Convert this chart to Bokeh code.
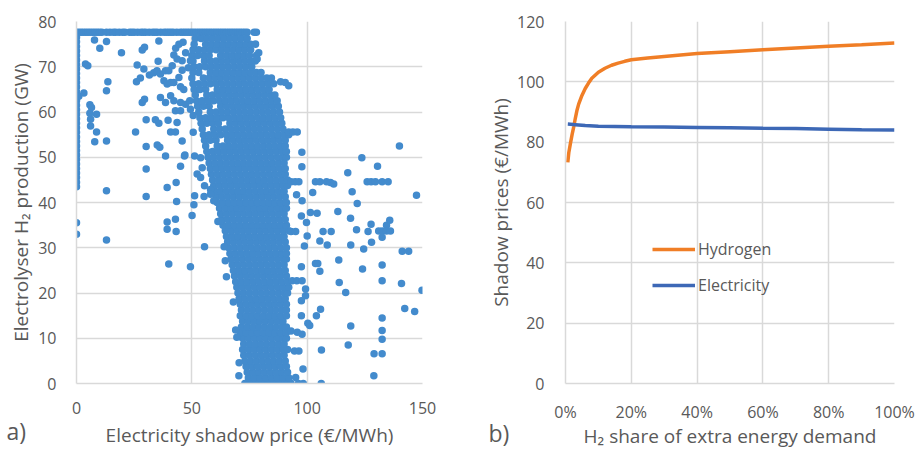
from bokeh.plotting import figure
from bokeh.layouts import row
from bokeh.models import Range1d, Legend, LegendItem, Title, FixedTicker, NumeralTickFormatter
from bokeh.embed import file_html
from bokeh.resources import INLINE

# ---------------- data: panel a) ----------------
# electricity shadow price (EUR/MWh) vs electrolyser H2 production (GW)
top_row_level = 77.6
top_row_x = [0, 1, 2, 3, 4, 5, 6, 7, 8, 9, 10, 11, 13, 14.5, 16, 17, 18.5, 20, 21, 23, 24, 25,
             26.5, 28, 29, 30, 31.5, 33, 34, 35, 36.5, 38, 39, 40, 41, 42, 43.5, 45, 46, 47, 48,
             49, 50, 51, 52, 53, 54, 55, 56, 57, 58, 59, 60, 61, 62, 63, 64, 65, 66, 67, 68, 69,
             70, 71, 72, 73, 74, 77, 78]

left_col_x = 0
left_col_y = [76.5, 75.5, 74.5, 73.5, 72.5, 71.5, 70.5, 69.5, 68.5, 67.5, 66.5, 65.5, 64.5, 63.5,
              62.5, 61.5, 60.5, 59.5, 58.5, 57.5, 56.5, 55.5, 54.5, 53.5, 52.5, 51.5, 50.5, 49.5,
              48.5, 47.5, 46.5, 45.5, 44.5, 43.5, 35.5, 33]

band_levels = [0, 1.25, 2.5, 3.75, 5, 6.25, 7.5, 8.75, 10, 11.25, 12.5, 13.75, 15, 16.25, 17.5,
               18.75, 20, 21.25, 22.5, 23.75, 25, 26.25, 27.5, 28.75, 30, 31.25, 32.5, 33.75, 35,
               36.25, 37.5, 38.75, 40, 41.25, 42.5, 43.75, 45, 46.25, 47.5, 48.75, 50, 51.25, 52.5,
               53.75, 55, 56.25, 57.5, 58.75, 60, 61.25, 62.5, 63.75, 65, 66.25, 67.5, 68.75, 70,
               71.25, 72.5, 73.75, 75, 76.25]
band_rows = [
    [73, 75.5, 78, 80.5, 83, 85.5, 88, 90.5, 93],
    [74.5, 77, 79.5, 82, 84.5, 87, 89.5, 92],
    [74, 76.5, 79, 81.5, 84, 86.5, 89, 91.5],
    [73.5, 76, 78.5, 81, 83.5, 86, 88.5, 91],
    [73, 75.5, 78, 80.5, 83, 85.5, 88, 90.5],
    [72.5, 75, 77.5, 80, 82.5, 85, 87.5, 90],
    [72, 74.5, 77, 79.5, 82, 84.5, 87, 89.5, 91.5],
    [72.5, 75, 77.5, 80, 82.5, 85, 87.5, 90],
    [72, 74.5, 77, 79.5, 82, 84.5, 87, 89.5, 91],
    [71, 73.5, 76, 78.5, 81, 83.5, 86, 88.5, 91],
    [71.5, 74, 76.5, 79, 81.5, 84, 86.5, 89, 91],
    [72, 74.5, 77, 79.5, 82, 84.5, 87, 89.5],
    [71, 73.5, 76, 78.5, 81, 83.5, 86, 88.5, 91],
    [71.5, 74, 76.5, 79, 81.5, 84, 86.5, 89, 91],
    [71, 73.5, 76, 78.5, 81, 83.5, 86, 88.5, 91],
    [70.5, 73, 75.5, 78, 80.5, 83, 85.5, 88, 90.5],
    [70, 72.5, 75, 77.5, 80, 82.5, 85, 87.5, 90, 91.5],
    [69.5, 72, 74.5, 77, 79.5, 82, 84.5, 87, 89.5, 92],
    [69, 71.5, 74, 76.5, 79, 81.5, 84, 86.5, 89, 91.5],
    [68.5, 71, 73.5, 76, 78.5, 81, 83.5, 86, 88.5, 91],
    [68, 70.5, 73, 75.5, 78, 80.5, 83, 85.5, 88, 90.5],
    [67.5, 70, 72.5, 75, 77.5, 80, 82.5, 85, 87.5, 90],
    [67, 69.5, 72, 74.5, 77, 79.5, 82, 84.5, 87, 89.5, 91],
    [66.5, 69, 71.5, 74, 76.5, 79, 81.5, 84, 86.5, 89, 91],
    [66, 68.5, 71, 73.5, 76, 78.5, 81, 83.5, 86, 88.5, 91],
    [65.5, 68, 70.5, 73, 75.5, 78, 80.5, 83, 85.5, 88, 90.5],
    [65, 67.5, 70, 72.5, 75, 77.5, 80, 82.5, 85, 87.5, 90],
    [64.5, 67, 69.5, 72, 74.5, 77, 79.5, 82, 84.5, 87, 89.5, 92],
    [63.5, 66, 68.5, 71, 73.5, 76, 78.5, 81, 83.5, 86, 88.5, 91],
    [63, 65.5, 68, 70.5, 73, 75.5, 78, 80.5, 83, 85.5, 88, 90.5],
    [62.5, 65, 67.5, 70, 72.5, 75, 77.5, 80, 82.5, 85, 87.5, 90],
    [62, 64.5, 67, 69.5, 72, 74.5, 77, 79.5, 82, 84.5, 87, 89.5, 91],
    [61, 63.5, 66, 68.5, 71, 73.5, 76, 78.5, 81, 83.5, 86, 88.5, 91],
    [60.5, 63, 65.5, 68, 70.5, 73, 75.5, 78, 80.5, 83, 85.5, 88, 90.5],
    [60, 62.5, 65, 67.5, 70, 72.5, 75, 77.5, 80, 82.5, 85, 87.5, 90],
    [59.5, 62, 64.5, 67, 69.5, 72, 74.5, 77, 79.5, 82, 84.5, 87, 89.5, 91.5],
    [59, 61.5, 64, 66.5, 69, 71.5, 74, 76.5, 79, 81.5, 84, 86.5, 89, 91.5],
    [58.5, 61, 63.5, 66, 68.5, 71, 73.5, 76, 78.5, 81, 83.5, 86, 88.5, 90.5],
    [58, 60.5, 63, 65.5, 68, 70.5, 73, 75.5, 78, 80.5, 83, 85.5, 88, 90.5],
    [57.5, 60, 62.5, 65, 67.5, 70, 72.5, 75, 77.5, 80, 82.5, 85, 87.5, 90],
    [57, 59.5, 62, 64.5, 67, 69.5, 72, 74.5, 77, 79.5, 82, 84.5, 87, 89.5, 91],
    [56.5, 59, 61.5, 64, 66.5, 69, 71.5, 74, 76.5, 79, 81.5, 84, 86.5, 89, 91],
    [56, 61, 63.5, 66, 68.5, 71, 73.5, 76, 78.5, 81, 83.5, 86, 88.5, 90.5],
    [55.5, 58, 60.5, 65.5, 68, 70.5, 73, 75.5, 78, 80.5, 83, 85.5, 88, 90.5],
    [55, 57.5, 60, 62.5, 65, 67.5, 70, 72.5, 75, 77.5, 80, 82.5, 85, 87.5, 90, 92],
    [54.5, 59.5, 62, 64.5, 67, 69.5, 72, 74.5, 77, 79.5, 82, 84.5, 87, 89.5],
    [54, 56.5, 59, 61.5, 66.5, 69, 71.5, 74, 76.5, 79, 81.5, 84, 86.5, 89],
    [53.5, 56, 58.5, 61, 63.5, 66, 68.5, 71, 73.5, 76, 78.5, 81, 83.5, 86, 88.5],
    [53, 58, 60.5, 63, 65.5, 68, 70.5, 73, 75.5, 78, 80.5, 83, 85.5, 88],
    [52.5, 55, 57.5, 62.5, 65, 67.5, 70, 72.5, 75, 77.5, 80, 82.5, 85, 87.5],
    [52, 54.5, 57, 59.5, 62, 64.5, 67, 69.5, 72, 74.5, 77, 79.5, 82, 84.5, 87],
    [51.5, 56.5, 59, 61.5, 64, 66.5, 69, 71.5, 74, 76.5, 79, 81.5, 84, 86],
    [51, 53.5, 56, 61, 63.5, 66, 68.5, 71, 73.5, 76, 78.5, 81, 83.5],
    [50.5, 53, 55.5, 58, 60.5, 63, 65.5, 68, 70.5, 73, 75.5, 78, 80.5, 83, 85.5],
    [50, 55, 57.5, 60, 62.5, 65, 67.5, 70, 72.5, 75, 77.5, 80, 82.5, 84.5],
    [50.5, 53, 58, 60.5, 63, 65.5, 68, 70.5, 73, 75.5, 78, 80],
    [51, 53.5, 56, 58.5, 61, 63.5, 66, 68.5, 71, 73.5, 76],
    [50.5, 55.5, 58, 60.5, 63, 65.5, 68, 70.5, 73, 75.5, 77.5],
    [50, 52.5, 55, 57.5, 62.5, 65, 67.5, 70, 72.5, 75, 78],
    [50.5, 53, 55.5, 58, 60.5, 63, 65.5, 68, 70.5, 73, 75.5],
    [51, 56, 58.5, 61, 63.5, 66, 68.5, 71, 73.5, 75.5],
    [51.5, 54, 56.5, 59, 61.5, 64, 66.5, 69, 71.5, 74],
]

sparse_pts = [
    (1.0, 63.5), (3.2, 64.2), (3.9, 70.6), (4.9, 70.2), (7.8, 75.9), (10.1, 74.1), (13, 75.6),
    (13, 64.7), (13.6, 66.7), (5.8, 61.6), (6.5, 61), (5.8, 59.7), (8.7, 59.5), (6.1, 58.4),
    (6.1, 56.9), (8.7, 55.6), (7.9, 53.4), (13, 53.6), (13, 42.6), (13, 31.7), (19.5, 73.1),
    (26.3, 70.4), (29.2, 69.5), (28.5, 73.7), (29.5, 74.3), (26, 66.7), (27.7, 67.5),
    (28.5, 62.1), (29.5, 62.8), (30.2, 58.3), (25.6, 55.6), (30.2, 52.4), (30.2, 47.4),
    (30.2, 41.3), (35.7, 75.7), (35.4, 71.2), (31.6, 68.2), (33.5, 68.7), (34.9, 69.1),
    (36.4, 68.4), (37.9, 66.9), (39.3, 66.2), (40.8, 66.5), (38.6, 69.1), (40, 69.1),
    (42.2, 66.5), (36.4, 63.2), (38.6, 62.1), (40.8, 63.6), (42.2, 62.5), (42.9, 60.3),
    (34.2, 58.3), (35.7, 57.5), (39.7, 58.2), (43.6, 57.7), (35, 52.7), (36.1, 52.2),
    (38.6, 50.3), (40.8, 55.6), (42.9, 55.6), (45.8, 53.6), (47, 50.5), (45.1, 48),
    (39.3, 43.3), (43.2, 44.4), (43.4, 40.2), (42.9, 36.3), (39.3, 35.7), (39.3, 34.1),
    (43.2, 33.6), (40, 26.4), (49.4, 25.8), (50.1, 37.1), (55.5, 30.2), (50.9, 39.5),
    (51.2, 41.5), (55.3, 41.3), (41.5, 70.2), (42.2, 72.6), (43, 74.1), (44.4, 75),
    (46.2, 75.4), (47.3, 73.1), (45.8, 71.3), (43.6, 71.7), (45.8, 69.2), (44.4, 67.6),
    (45.1, 65.6), (46.5, 65), (45.1, 62.1), (47.3, 61.7), (45.1, 60.3), (46.8, 50.3),
    (49.4, 71.3), (48.5, 69.8), (49.1, 62.5), (49.4, 60.6), (50.6, 59.2), (50.6, 55.5),
    (51.2, 50.3), (53.8, 49.9), (54.5, 47.7), (52.3, 46.3), (53.8, 45.5), (58.1, 42.9),
    (55.5, 43.7), (59.5, 40.4), (58.1, 41.8), (61.3, 35.8), (62.4, 35.9), (64, 30.2),
    (64.5, 27.1), (65, 23.6), (68, 18), (69, 11.8), (69.5, 10.2), (70.5, 4.6), (70.4, 1.7),
    (77.6, 75), (79, 73.1), (78.3, 71.7), (88.5, 66.7), (90.5, 66.5), (92, 65.8), (92, 55.6),
    (93.8, 55.6), (95.7, 55.6), (97.7, 51.1), (97.7, 47.9), (93, 44.6), (94.8, 44.6),
    (96.4, 44.6), (95.4, 41.7), (97.8, 40.4), (97.5, 37), (99.7, 35.6), (93, 33.6), (95, 33.6),
    (100, 32.6), (98.8, 30.4), (97.5, 25.8), (93.5, 22.7), (95.5, 22.7), (97.8, 22.7),
    (99.3, 20.9), (99.3, 19.4), (97.5, 18.3), (97.5, 15), (100.3, 13.3), (101.1, 12.8),
    (93, 11.6), (95.7, 11.3), (97.8, 10.9), (94.5, 7.2), (96.4, 7.2), (98.2, 3.2), (95, 1.3),
    (96.2, 0), (98.3, 0), (102.4, 42.2), (119.5, 42.4), (147.4, 41.6), (121.7, 39.8),
    (101.4, 37.8), (104.3, 37.6), (113.3, 38), (118.8, 36.5), (127.7, 35.2), (134.4, 35),
    (135.8, 36.1), (131, 33.7), (132.5, 33.7), (134.4, 33.7), (136.1, 33.7), (132.5, 32.3),
    (121.4, 34), (126.4, 33.6), (127.9, 31.2), (124.5, 29.7), (141.2, 29.2), (144, 29.2),
    (106.9, 33.6), (110.4, 33.6), (105.5, 31.5), (108.7, 30.6), (118.9, 30.6), (103.6, 26.5),
    (104.6, 26.5), (105.5, 24.8), (113.7, 27.3), (124, 25.3), (132.5, 26.2), (132.5, 22.7),
    (113.9, 22.3), (116.7, 20.1), (140.9, 22.1), (149.8, 20.6), (105.8, 16.4), (104, 15),
    (142.3, 16.6), (146.6, 15.9), (132.5, 14.5), (118.9, 12.7), (132.5, 11.7), (132.5, 9.8),
    (117.8, 8.5), (106.2, 7.4), (129, 6.6), (132.5, 6.6), (128.9, 1.7), (106.1, 0),
    (140, 52.5), (123.7, 49.9), (130.5, 48), (117.6, 46.6), (103.6, 44.6), (105.5, 44.6),
    (108.4, 44.6), (110.1, 44.4), (111.5, 44.1), (126, 44.6), (127.7, 44.6), (129.6, 44.6),
    (132.5, 44.6), (135.1, 44.6),
]

# ---------------- data: panel b) ----------------
share_h2 = [0.007, 0.01, 0.015, 0.02, 0.025, 0.03, 0.035, 0.04, 0.05, 0.06, 0.07, 0.08, 0.09,
            0.10, 0.12, 0.14, 0.16, 0.18, 0.20, 0.25, 0.30, 0.40, 0.50, 0.60, 0.70, 0.80, 0.90, 1.0]
price_h2 = [73.3, 76.5, 79.6, 82.5, 85.1, 88.0, 90.6, 92.6, 95.5, 97.8, 99.6, 101.2, 102.2,
            103.2, 104.5, 105.5, 106.2, 106.8, 107.3, 107.9, 108.4, 109.4, 110.0, 110.6, 111.2,
            111.8, 112.3, 112.9]
share_el = [0.007, 0.03, 0.06, 0.10, 0.15, 0.20, 0.30, 0.40, 0.50, 0.60, 0.70, 0.80, 0.90, 1.0]
price_el = [86.0, 85.8, 85.5, 85.3, 85.2, 85.1, 85.0, 84.9, 84.8, 84.6, 84.5, 84.3, 84.1, 84.0]

# ---------------- styling ----------------
FONT = "Open Sans"
TXT = "#595959"
GRID = "#d9d9d9"
DOT = "#438bcd"
ORANGE = "#f07e26"
BLUE = "#3d68b6"


def style(p):
    p.outline_line_color = None
    p.background_fill_color = "white"
    p.border_fill_color = "white"
    for ax in (p.xaxis[0], p.yaxis[0]):
        ax.axis_line_color = GRID
        ax.axis_line_width = 1.5
        ax.major_tick_line_color = None
        ax.minor_tick_line_color = None
        ax.major_tick_out = 0
        ax.major_tick_in = 0
        ax.major_label_text_font = FONT
        ax.major_label_text_font_size = "16px"
        ax.major_label_text_color = TXT
        ax.axis_label_text_font = FONT
        ax.axis_label_text_font_size = "19px"
        ax.axis_label_text_color = TXT
        ax.axis_label_text_font_style = "normal"
    p.xgrid.grid_line_color = GRID
    p.ygrid.grid_line_color = GRID
    p.xgrid.grid_line_width = 1.5
    p.ygrid.grid_line_width = 1.5


def bottom_text(text, size, align, offset, standoff):
    # zero-height title in the bottom panel, anchored below the tick labels
    return Title(text=text, align=align, offset=offset, vertical_align="bottom",
                 standoff=standoff, text_font=FONT, text_font_size=size,
                 text_font_style="normal", text_color=TXT)


# ---------------- panel a ----------------
p1 = figure(width=460, height=449, output_backend="svg", toolbar_location=None,
            x_range=Range1d(0, 150), y_range=Range1d(0, 80),
            min_border_left=76, min_border_right=38, min_border_top=21, min_border_bottom=66)
style(p1)
p1.xaxis.ticker = FixedTicker(ticks=[0, 50, 100, 150])
p1.yaxis.ticker = FixedTicker(ticks=[0, 10, 20, 30, 40, 50, 60, 70, 80])
p1.xaxis.major_label_standoff = 18
p1.yaxis.major_label_standoff = 20
p1.yaxis.axis_label = "Electrolyser H\u2082 production (GW)"
p1.yaxis.axis_label_standoff = 1

band_x, band_y = [], []
for lvl, xs in zip(band_levels, band_rows):
    band_x += xs
    band_y += [lvl] * len(xs)

p1.scatter(band_x, band_y, size=7.5, fill_color=DOT, line_color=None)
p1.scatter(top_row_x, [top_row_level] * len(top_row_x), size=7.5, fill_color=DOT, line_color=None)
p1.scatter([left_col_x] * len(left_col_y), left_col_y, size=7.5, fill_color=DOT, line_color=None)
p1.scatter([pt[0] for pt in sparse_pts], [pt[1] for pt in sparse_pts], size=7.5,
           fill_color=DOT, line_color=None)
p1.add_layout(bottom_text("Electricity shadow price (\u20ac/MWh)", "19px", "center", 0, -63), "below")
p1.add_layout(bottom_text("a)", "23px", "left", -70, -61), "below")

# ---------------- panel b ----------------
p2 = figure(width=457, height=449, output_backend="svg", toolbar_location=None,
            x_range=Range1d(0, 1), y_range=Range1d(0, 120),
            min_border_left=105, min_border_right=23, min_border_top=21, min_border_bottom=65)
style(p2)
p2.xaxis.ticker = FixedTicker(ticks=[0, 0.2, 0.4, 0.6, 0.8, 1.0])
p2.xaxis.formatter = NumeralTickFormatter(format="0%")
p2.yaxis.ticker = FixedTicker(ticks=[0, 20, 40, 60, 80, 100, 120])
p2.xaxis.major_label_standoff = 17
p2.yaxis.major_label_standoff = 21
p2.yaxis.axis_label = "Shadow prices (\u20ac/MWh)"
p2.yaxis.axis_label_standoff = 0

r_h2 = p2.line(share_h2, price_h2, line_color=ORANGE, line_width=3.5)
r_el = p2.line(share_el, price_el, line_color=BLUE, line_width=3.5)

legend = Legend(items=[LegendItem(label="Hydrogen", renderers=[r_h2]),
                       LegendItem(label="Electricity", renderers=[r_el])],
                location=(87, 87), padding=0, margin=0, spacing=14,
                glyph_width=43, glyph_height=20, label_height=20, label_standoff=3,
                border_line_color=None, background_fill_alpha=0,
                label_text_font=FONT, label_text_font_size="16px", label_text_color=TXT)
p2.add_layout(legend)
p2.add_layout(bottom_text("H\u2082 share of extra energy demand", "19px", "center", 0, -47), "below")
p2.add_layout(bottom_text("b)", "23px", "left", -77, -47), "below")

layout = row(p1, p2)
open("out.html", "w").write(file_html(layout, INLINE))
